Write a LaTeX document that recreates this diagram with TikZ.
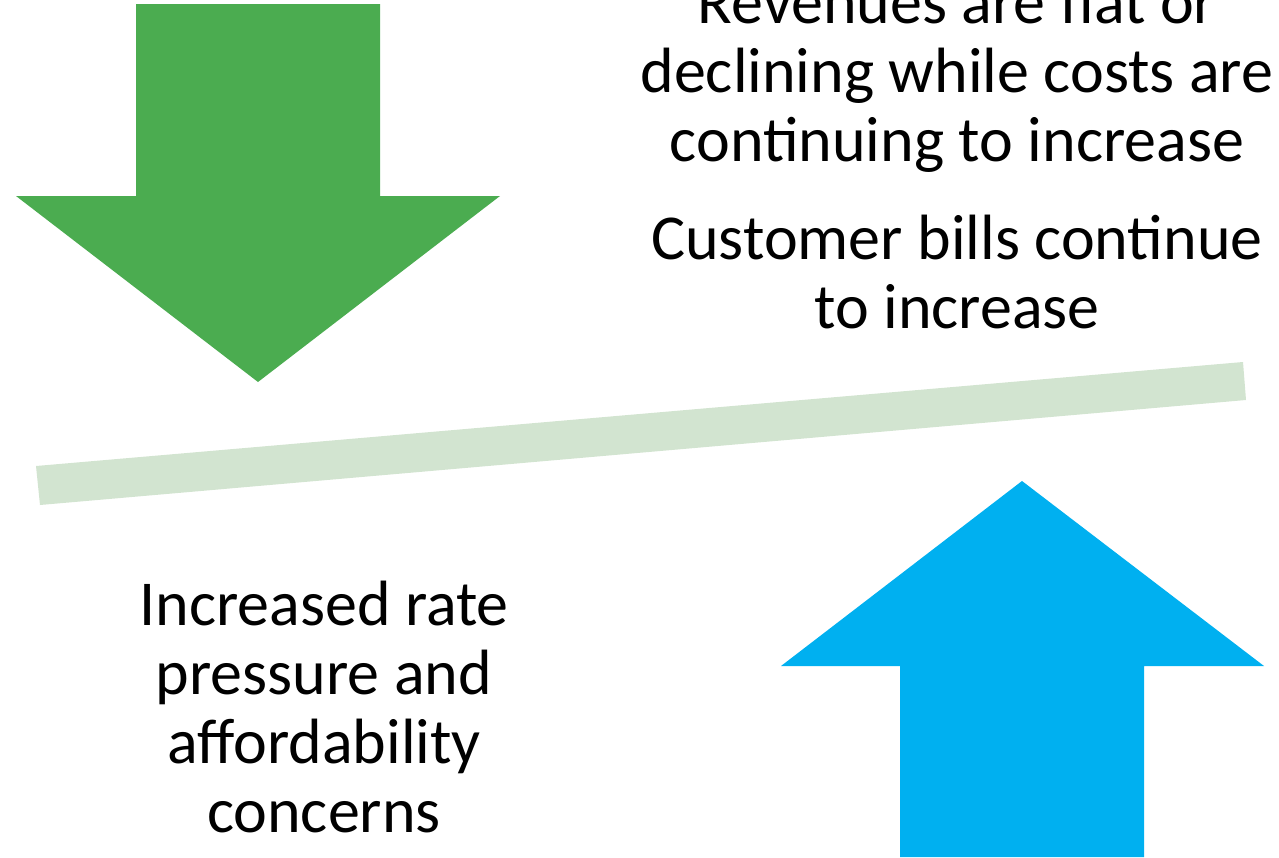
\documentclass[tikz,border=0pt]{standalone}
\usepackage{fontspec}
\setmainfont{Carlito}
\usetikzlibrary{positioning}
\definecolor{arrowgreen}{RGB}{75,172,80}
\definecolor{arrowblue}{RGB}{0,176,240}
\definecolor{beamgreen}{RGB}{210,228,208}
\tikzstyle{every node}=[align=center, inner sep=0pt, font=\fontsize{64}{69}\selectfont]

\begin{document}
\begin{tikzpicture}[x=1pt, y=-1pt]
    \useasboundingbox (0,0) rectangle (1279,857);
% Beam
    \fill[beamgreen] (36,466) -- (1243,362) -- (1246,400) -- (40,505) -- cycle;
% Arrows
    \fill[arrowgreen] (136,4) -- (380,4) -- (380,196) -- (500,196) -- (258,382)
        -- (16,196) -- (136,196) -- cycle;
    \fill[arrowblue] (900,857) -- (900,666) -- (781,666) -- (1022,481)
        -- (1264,666) -- (1144,666) -- (1144,857) -- cycle;
% Texts (base = last line)
    \node[anchor=base] (rev) at (957,161) {Revenues are flat or\\declining while costs are\\continuing to increase};
    \node[anchor=base] (bills) at (957,328) {Customer bills continue\\to increase};
    \node[anchor=base] (rate) at (324,832) {Increased rate\\pressure and\\affordability\\concerns};
\end{tikzpicture}
\end{document}
